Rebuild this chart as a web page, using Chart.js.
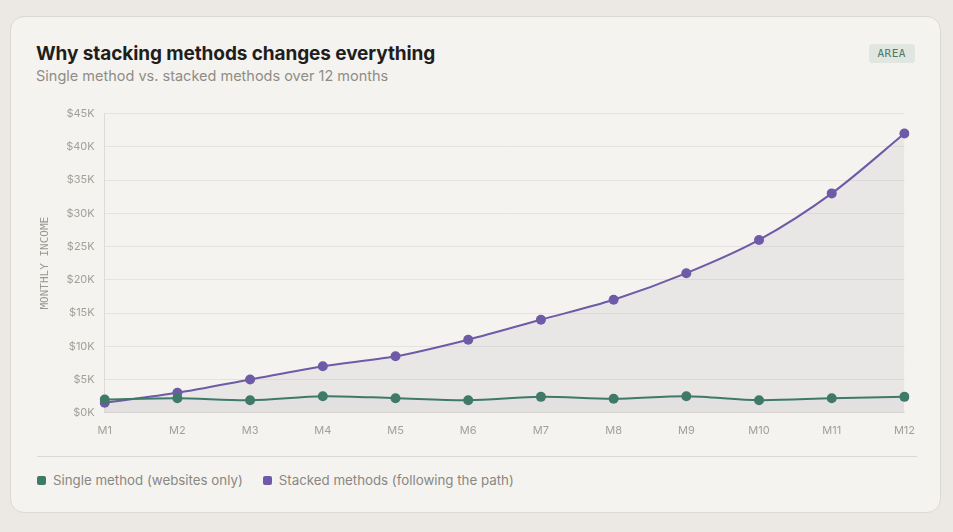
<!DOCTYPE html>
<html>
<head>
<meta charset="utf-8">
<script src="https://cdn.jsdelivr.net/npm/chart.js@4"></script>
<style>
    html, body { margin: 0; padding: 0; background: #ece9e4; }
    body { width: 953px; height: 532px; position: relative; font-family: Inter, "Noto Sans", sans-serif; }
    .card {
        position: absolute; left: 10px; top: 16px; width: 931px; height: 497px;
        background: #f4f3ef; border: 1px solid #dcd8d2; border-radius: 14px; box-sizing: border-box;
    }
    .title { position: absolute; left: 25px; top: 25px; font-size: 19px; font-weight: 700; color: #1f1e1c; letter-spacing: -0.1px; }
    .subtitle { position: absolute; left: 25px; top: 50px; font-size: 14.5px; color: #8f8c87; }
    .badge {
        position: absolute; right: 25px; top: 27px; padding: 3px 9px; background: #e2e6e0;
        color: #4d7a68; font-family: "DejaVu Sans Mono", monospace; font-size: 11px; letter-spacing: 0.5px; border-radius: 3px;
    }
    .chart-wrap { position: absolute; left: 24px; top: 80px; width: 883px; height: 343px; }
    .sep { position: absolute; left: 26px; top: 439px; width: 880px; border-top: 1px solid #dcd9d4; }
    .legend { position: absolute; left: 26px; top: 455px; font-size: 13.3px; color: #8a8782; display: flex; gap: 20px; }
    .legend span.item { display: flex; align-items: center; }
    .legend span.box { width: 9px; height: 9px; border-radius: 2px; margin-right: 7px; display: inline-block; }
</style>
</head>
<body>
<div class="card">
    <div class="title">Why stacking methods changes everything</div>
    <div class="subtitle">Single method vs. stacked methods over 12 months</div>
    <div class="badge">AREA</div>
    <div class="chart-wrap"><canvas id="myChart"></canvas></div>
    <div class="sep"></div>
    <div class="legend" id="legend"></div>
</div>
<script>
const months = ["M1", "M2", "M3", "M4", "M5", "M6", "M7", "M8", "M9", "M10", "M11", "M12"];
const singleMethod = [2000, 2200, 1900, 2500, 2200, 1900, 2400, 2100, 2500, 1900, 2200, 2400];
const stackedMethods = [1500, 3000, 5000, 7000, 8500, 11000, 14000, 17000, 21000, 26000, 33000, 42000];
const seriesNames = ["Single method (websites only)", "Stacked methods (following the path)"];
const seriesColors = ["#3f7a68", "#6e5aa6"];

// Build the HTML legend
const legend = document.getElementById("legend");
seriesNames.forEach((name, i) => {
    const item = document.createElement("span");
    item.className = "item";
    item.innerHTML = `<span class="box" style="background:${seriesColors[i]}"></span>${name}`;
    legend.appendChild(item);
});

const ctx = document.getElementById('myChart').getContext('2d');
const myChart = new Chart(ctx, {
    type: 'line',
    data: {
        labels: months,
        datasets: [{
            label: seriesNames[0],
            data: singleMethod,
            borderColor: seriesColors[0],
            backgroundColor: 'rgba(90, 100, 100, 0.05)',
            pointBackgroundColor: seriesColors[0],
            fill: 'origin',
            order: 0
        }, {
            label: seriesNames[1],
            data: stackedMethods,
            borderColor: seriesColors[1],
            backgroundColor: 'rgba(120, 110, 140, 0.09)',
            pointBackgroundColor: seriesColors[1],
            fill: 'origin',
            order: 1
        }]
    },
    options: {
        responsive: true,
        maintainAspectRatio: false,
        animation: false,
        elements: {
            line: { tension: 0.3, borderWidth: 2 },
            point: { radius: 5, borderWidth: 0 }
        },
        plugins: {
            legend: { display: false },
            tooltip: { enabled: false }
        },
        scales: {
            x: {
                grid: { display: false },
                border: { color: '#dedbd6' },
                ticks: { color: '#a3a09b', font: { family: 'Inter', size: 11 }, padding: 3 }
            },
            y: {
                min: 0,
                max: 45000,
                grid: { color: '#e6e3de', drawTicks: false },
                border: { color: '#dedbd6' },
                ticks: {
                    stepSize: 5000,
                    padding: 10,
                    color: '#a3a09b',
                    font: { family: 'Inter', size: 11 },
                    callback: (v) => '$' + (v / 1000) + 'K'
                },
                title: {
                    display: true,
                    text: 'MONTHLY INCOME',
                    color: '#9a9792',
                    font: { family: 'DejaVu Sans Mono', size: 11 }
                }
            }
        }
    }
});
</script>
</body>
</html>
